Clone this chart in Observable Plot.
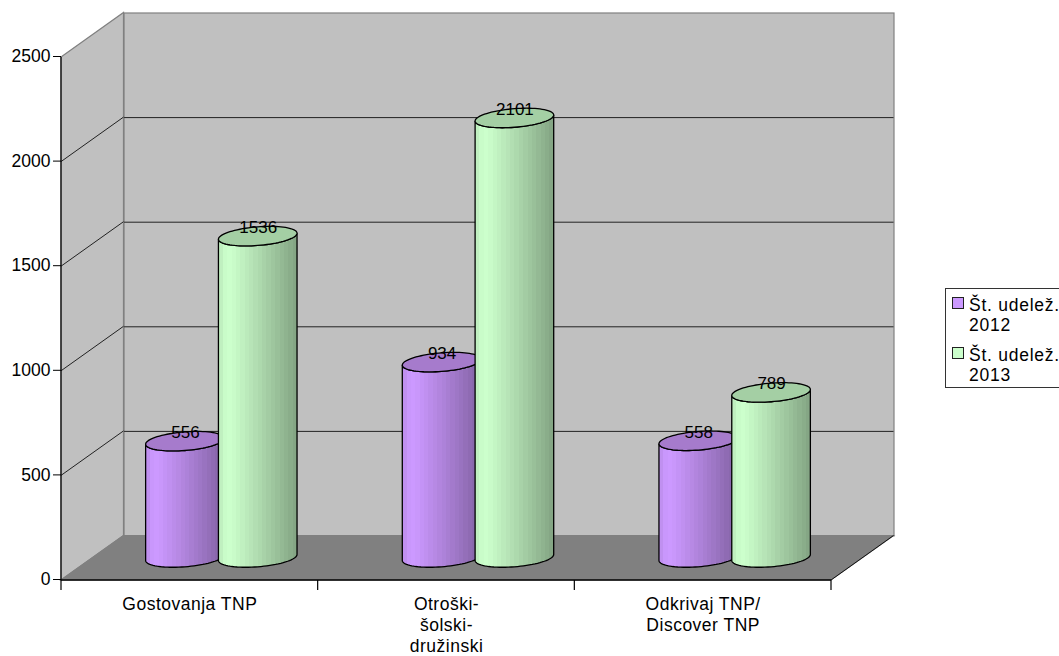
<!DOCTYPE html>
<html>
<head>
<meta charset="utf-8">
<style>
html,body{margin:0;padding:0;background:#fff}
#wrap{position:relative;width:1059px;height:656px;overflow:hidden;font-family:"Liberation Sans",Arial,sans-serif}
#legend{position:absolute;left:945px;top:288px;width:130px;height:100px;box-sizing:border-box;border:1px solid #333;background:#fff;font-size:17.5px;letter-spacing:.75px;line-height:20px;color:#000}
.li{position:absolute;left:23px;white-space:pre}
.sw{position:absolute;left:6px;width:10px;height:10px;border:1px solid #222}
svg{display:block}
g[aria-label="x-axis tick label"] text{letter-spacing:.5px}
</style>
<script src="https://cdn.jsdelivr.net/npm/d3@7"></script>
<script src="https://cdn.jsdelivr.net/npm/@observablehq/plot@0.6"></script>
</head>
<body>
<div id="wrap"></div>
<script>
const categories = ["Gostovanja TNP", "Otroški-\nšolski-\ndružinski", "Odkrivaj TNP/\nDiscover TNP"];
const seriesNames = ["Št. udelež.\n2012", "Št. udelež.\n2013"];
const values2012 = [556, 934, 558];
const values2013 = [1536, 2101, 789];
const yTicks = [0, 500, 1000, 1500, 2000, 2500];
const seriesColors = ["#cc99ff", "#ccffcc"];
const capColors = ["#a67bcc", "#a4cfa4"];

const rows2012 = categories.map((c, i) => ({cat: c, value: values2012[i], s: 0}));
const rows2013 = categories.map((c, i) => ({cat: c, value: values2013[i], s: 1}));

const depthX = 62.5, depthY = -44.5;
const midX = 32, midY = -22.5;
const seriesOffset = [-36.4, 36.4];
const rx = 39.3, ry = 9.3, tilt = 3;

// Left wall, floor and the grid's diagonals, drawn from the scales.
function room(index, {x, y}) {
  const g = d3.create("svg:g");
  const x0 = x(categories[0]);
  const x1 = x(categories[2]) + x.bandwidth();
  const y0 = y(0), yTop = y(2500);
  const poly = (pts, fill, stroke) => g.append("polygon")
    .attr("points", pts.map(p => p.join(",")).join(" "))
    .attr("fill", fill).attr("stroke", stroke).attr("stroke-width", 1.2);
  poly([[x0, yTop], [x0 + depthX, yTop + depthY], [x0 + depthX, y0 + depthY], [x0, y0]], "#c0c0c0", "#808080");
  poly([[x0, y0], [x0 + depthX, y0 + depthY], [x1 + depthX, y0 + depthY], [x1, y0]], "#808080", "#808080");
  for (const t of yTicks.slice(1, -1)) {
    g.append("line").attr("x1", x0).attr("y1", y(t)).attr("x2", x0 + depthX).attr("y2", y(t) + depthY)
      .attr("stroke", "#222").attr("stroke-width", 1);
  }
  g.append("line").attr("x1", x1).attr("y1", y0).attr("x2", x1 + depthX).attr("y2", y0 + depthY)
    .attr("stroke", "#111").attr("stroke-width", 1);
  return g.node();
}

// Front axis lines and boundary ticks.
function frontAxes(index, {x, y}) {
  const g = d3.create("svg:g").attr("stroke", "#000").attr("stroke-width", 1.2);
  const x0 = x(categories[0]), bw = x.bandwidth();
  const y0 = y(0);
  g.append("line").attr("x1", x0).attr("x2", x0).attr("y1", y(2500)).attr("y2", y0 + 10);
  g.append("line").attr("x1", x0).attr("x2", x0 + bw * categories.length).attr("y1", y0).attr("y2", y0).attr("stroke-width", 1.6);
  categories.forEach((c) => {
    const px = x(c) + bw;
    g.append("line").attr("x1", px).attr("x2", px).attr("y1", y0).attr("y2", y0 + 10);
  });
  return g.node();
}

// Bar replaced by a shaded cylinder.
function bandStops(hex) {
  const shade = d3.scaleLinear([0, 0.1, 0.16, 0.55, 1], [0.92, 1, 1, 0.84, 0.64]);
  const base = d3.rgb(hex), n = 18, stops = [];
  for (let i = 0; i < n; i++) {
    const k = shade((i + 0.5) / n);
    const col = d3.rgb(base.r * k, base.g * k, base.b * k).formatHex();
    stops.push([i / n, col], [(i + 1) / n, col]);
  }
  return stops;
}
function cylinders(rows) {
  return function (index, scales) {
    const {x, y} = scales;
    const g = d3.create("svg:g");
    const s = rows[0].s;
    const id = "cyl" + s;
    const grad = g.append("defs").append("linearGradient").attr("id", id);
    bandStops(seriesColors[s]).forEach(([o, c]) =>
      grad.append("stop").attr("offset", o).attr("stop-color", c));
    for (const i of index) {
      const d = rows[i];
      const cx = x(d.cat) + x.bandwidth() / 2 + midX + seriesOffset[s];
      const top = y(d.value) + midY, bot = y(0) + midY;
      const pt = (t, cy) => [cx + rx * Math.cos(t), cy + ry * Math.sin(t) - tilt * Math.cos(t)];
      const angles = d3.range(0, Math.PI + 0.001, Math.PI / 40);
      const lower = angles.map(t => pt(t, bot));
      const body = [...lower, pt(Math.PI, top), ...angles.map(t => pt(t, top)).reverse()];
      g.append("path").attr("d", d3.line()(body) + "Z")
        .attr("fill", `url(#${id})`).attr("stroke", "#000").attr("stroke-width", 1.3);
      const ring = d3.range(0, 2 * Math.PI, Math.PI / 40).map(t => pt(t, top));
      g.append("path").attr("d", d3.line()(ring) + "Z")
        .attr("fill", capColors[s]).attr("stroke", "#000").attr("stroke-width", 1.3);
    }
    return g.node();
  };
}

const barOf = rows => Plot.barY(rows, {x: "cat", y: "value", render: cylinders(rows)});
const labelOf = (rows, s) => Plot.text(rows, {
  x: "cat", y: "value", text: d => String(d.value),
  dx: midX + seriesOffset[s], dy: midY - 9, fill: "#000"
});

const plot = Plot.plot({
  width: 1059, height: 656,
  marginLeft: 61, marginRight: 228, marginTop: 57, marginBottom: 76,
  style: {fontFamily: "'Liberation Sans',Arial,sans-serif", fontSize: "17px", background: "transparent", color: "#000", overflow: "visible"},
  x: {domain: categories, padding: 0, round: false},
  y: {domain: [0, 2500]},
  marks: [
    Plot.frame({fill: "#c0c0c0", stroke: "#808080", strokeWidth: 1.2, dx: depthX, dy: depthY}),
    Plot.ruleY(yTicks.slice(1, -1), {stroke: "#222", strokeWidth: 1, dx: depthX, dy: depthY}),
    room,
    frontAxes,
    barOf(rows2012),
    barOf(rows2013),
    labelOf(rows2012, 0),
    labelOf(rows2013, 1),
    Plot.axisY({ticks: yTicks, tickSize: 8, tickPadding: 3, label: null, tickFormat: d => String(d), stroke: "#000", dy: -1, fontSize: 17.5}),
    Plot.axisX({tickSize: 0, tickPadding: 14, label: null, lineHeight: 1.22, fontSize: 17.5, stroke: "none", fill: "#000"})
  ]
});
const wrap = document.getElementById("wrap");
wrap.appendChild(plot);

const legend = document.createElement("div");
legend.id = "legend";
const rowTops = [4, 54];
seriesNames.forEach((name, i) => {
  const sw = document.createElement("div");
  sw.className = "sw";
  sw.style.top = (rowTops[i] + 4) + "px";
  sw.style.background = seriesColors[i];
  const li = document.createElement("div");
  li.className = "li";
  li.style.top = (rowTops[i] + 2) + "px";
  li.textContent = name;
  legend.append(sw, li);
});
wrap.appendChild(legend);
</script>
</body>
</html>
